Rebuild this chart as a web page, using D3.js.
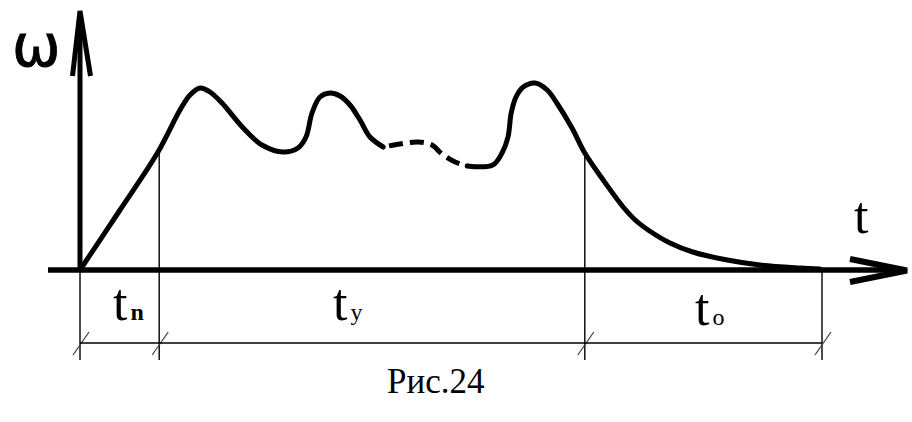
<!DOCTYPE html>
<html>
<head>
<meta charset="utf-8">
<script src="https://cdn.jsdelivr.net/npm/d3@7"></script>
<style>
  html, body { margin: 0; padding: 0; background: #ffffff; }
  svg { display: block; }
</style>
</head>
<body>
<svg id="chart" width="912" height="422"></svg>
<script>
// ---- data (t in arbitrary units 0..100, omega in arbitrary units 0..100) ----
const segStartT = [0, 5, 9.75, 12.5, 13.75, 15, 16.25, 17.75, 20.4, 22.75, 25.4, 27.25, 28.25, 29, 30, 31.25, 32.5, 33.75, 35, 36.25, 37.9];
const segStartW = [0, 30, 59, 80, 87.5, 91, 89, 83.5, 71, 62.5, 59, 61, 66.5, 78.5, 86.5, 88.5, 87, 82.5, 75, 66.5, 61.5];

const dashT = [37.9, 40, 42.25, 44, 45.25, 46.9, 48.4];
const dashW = [61.5, 63, 64, 62.5, 58, 54, 52];

const segEndT = [48.4, 51.6, 52.75, 53.5, 53.9, 54.5, 55.4, 56.9, 58.4, 59.6, 61.5, 63.1, 65.4, 67.9, 69.4, 71.2, 73.75, 76.6, 80.9, 85, 90, 92.5];
const segEndW = [52, 52.5, 58.5, 66.5, 78.5, 86.5, 91.5, 93.5, 90, 83.5, 71, 58.5, 45, 31.5, 25, 19.5, 13.5, 9, 5, 2.5, 1, 0.5];

const phaseBounds = [0, 9.9, 63.1, 92.75];
const phaseMain = ["t", "t", "t"];
const phaseSub = ["n", "y", "o"];
const axisLabelY = "ω";
const axisLabelX = "t";
const caption = "Рис.24";

// ---- drawing ----
const svg = d3.select("#chart");
const x = d3.scaleLinear().domain([0, 100]).range([80, 880]);
const y = d3.scaleLinear().domain([0, 100]).range([270, 70]);

const ink = "#000";
const serif = "'Liberation Serif', 'Times New Roman', serif";

// Axes
svg.append("line").attr("x1", 48).attr("y1", y(0)).attr("x2", 904).attr("y2", y(0))
  .attr("stroke", ink).attr("stroke-width", 5.5);
svg.append("line").attr("x1", x(0)).attr("y1", y(0) + 2).attr("x2", x(0)).attr("y2", 14)
  .attr("stroke", ink).attr("stroke-width", 5);
// arrow heads (open, thick strokes)
svg.append("path").attr("d", `M850,259 L907,270.5 L850,282`)
  .attr("fill", "none").attr("stroke", ink).attr("stroke-width", 6).attr("stroke-linejoin", "miter");
svg.append("path").attr("d", `M72.5,76 L80,11 L90.5,76`)
  .attr("fill", "none").attr("stroke", ink).attr("stroke-width", 5).attr("stroke-linejoin", "miter");

// Curve
const line = d3.line().x(d => x(d[0])).y(d => y(d[1])).curve(d3.curveCatmullRom.alpha(0.5));
const seg1 = segStartT.map((t, i) => [t, segStartW[i]]);
const seg2 = dashT.map((t, i) => [t, dashW[i]]);
const seg3 = segEndT.map((t, i) => [t, segEndW[i]]);
svg.append("path").attr("d", line(seg1)).attr("fill", "none").attr("stroke", ink)
  .attr("stroke-width", 5).attr("stroke-linecap", "round").attr("stroke-linejoin", "round");
svg.append("path").attr("d", line(seg2)).attr("fill", "none").attr("stroke", ink)
  .attr("stroke-width", 5).attr("stroke-dasharray", "14 7").attr("stroke-dashoffset", -6);
svg.append("path").attr("d", line(seg3)).attr("fill", "none").attr("stroke", ink)
  .attr("stroke-width", 5).attr("stroke-linecap", "round").attr("stroke-linejoin", "round");

// helper: find omega at a t from the curve arrays
function omegaAt(t) {
  const allT = segStartT.concat(dashT, segEndT);
  const allW = segStartW.concat(dashW, segEndW);
  let best = 0, bd = Infinity;
  allT.forEach((v, i) => { const dd = Math.abs(v - t); if (dd < bd) { bd = dd; best = i; } });
  return allW[best];
}

// Phase boundary lines
const dimY = 343;
phaseBounds.forEach((t, i) => {
  const top = (i === 0 || i === phaseBounds.length - 1) ? y(0) : y(omegaAt(t));
  svg.append("line").attr("x1", x(t)).attr("x2", x(t)).attr("y1", top).attr("y2", 360)
    .attr("stroke", ink).attr("stroke-width", 1.4);
  svg.append("line").attr("x1", x(t) - 7).attr("y1", dimY + 12).attr("x2", x(t) + 9).attr("y2", dimY - 11)
    .attr("stroke", "#444").attr("stroke-width", 1.3);
});
svg.append("line").attr("x1", x(phaseBounds[0])).attr("x2", x(phaseBounds[phaseBounds.length - 1]))
  .attr("y1", dimY).attr("y2", dimY).attr("stroke", ink).attr("stroke-width", 1.4);

// Phase labels
const labelX = [113, 333, 695];
const labelBase = [320, 320, 325];
phaseMain.forEach((m, i) => {
  const txt = svg.append("text").attr("x", labelX[i]).attr("y", labelBase[i])
    .attr("font-family", serif).attr("font-size", 52).attr("fill", ink);
  txt.append("tspan").text(m);
  txt.append("tspan").attr("dx", 3).attr("font-size", 24)
    .attr("font-weight", i === 0 ? "bold" : "normal").text(phaseSub[i]);
});

// Axis labels
svg.append("text").attr("x", 12).attr("y", 66)
  .attr("font-family", "'DejaVu Sans', sans-serif").attr("font-size", 58)
  .attr("fill", ink).attr("stroke", ink).attr("stroke-width", 0.8).text(axisLabelY);
svg.append("text").attr("x", 854).attr("y", 233)
  .attr("font-family", serif).attr("font-size", 52).attr("fill", ink).text(axisLabelX);

// Caption
svg.append("text").attr("x", 387).attr("y", 393)
  .attr("font-family", serif).attr("font-size", 35).attr("fill", ink).text(caption);
</script>
</body>
</html>
